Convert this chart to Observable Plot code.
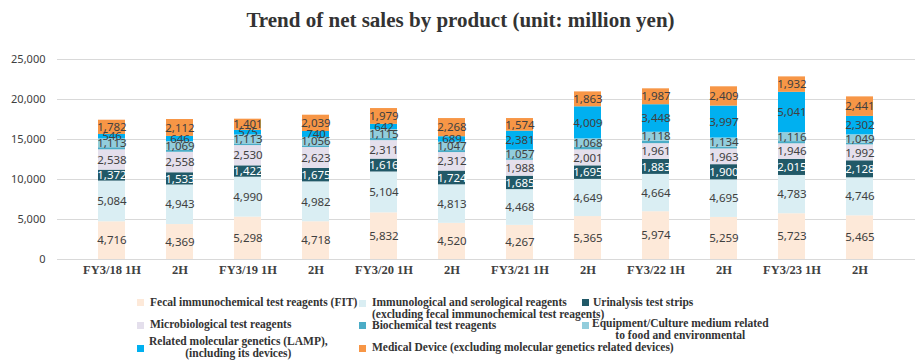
<!DOCTYPE html>
<html>
<head>
<meta charset="utf-8">
<script src="https://cdn.jsdelivr.net/npm/d3@7"></script>
<script src="https://cdn.jsdelivr.net/npm/@observablehq/plot@0.6"></script>
<style>
  html, body { margin: 0; padding: 0; background: #fff; }
  #wrap { position: relative; width: 921px; height: 361px; overflow: hidden; }
  #title { position: absolute; left: 0; top: 0; width: 921px; height: 40px; line-height: 40px; text-align: center;
    font-family: "Liberation Serif", serif; font-weight: bold; font-size: 21px; color: #333; }
  #chart { position: absolute; left: 0; top: 40px; }
  #legend { position: absolute; left: 0; top: 280px; width: 921px; height: 81px;
    font-family: "Liberation Serif", serif; font-weight: bold; font-size: 11.5px; color: #333; }
  .sw { position: absolute; width: 7px; height: 7px; }
  .lt { position: absolute; white-space: nowrap; line-height: 12px; transform: translateY(-50%); }
</style>
</head>
<body>
<div id="wrap">
  <div id="title">Trend of net sales by product (unit: million yen)</div>
  <div id="chart"></div>
  <div id="legend"></div>
</div>
<script>
const categories = ["FY3/18 1H","FY3/18 2H","FY3/19 1H","FY3/19 2H","FY3/20 1H","FY3/20 2H",
                    "FY3/21 1H","FY3/21 2H","FY3/22 1H","FY3/22 2H","FY3/23 1H","FY3/23 2H"];
const tickLabels = ["FY3/18 1H","2H","FY3/19 1H","2H","FY3/20 1H","2H","FY3/21 1H","2H","FY3/22 1H","2H","FY3/23 1H","2H"];

const series = [
  "Fecal immunochemical test reagents (FIT)",
  "Immunological and serological reagents",
  "Urinalysis test strips",
  "Microbiological test reagents",
  "Biochemical test reagents",
  "Equipment/Culture medium related to food and environmental",
  "Related molecular genetics (LAMP)",
  "Medical Device"
];
const colors = ["#fde9d9","#daeef3","#215968","#e4dfec","#4bacc6","#92cddc","#00b0f0","#f79646"];

const fit          = [4716,4369,5298,4718,5832,4520,4267,5365,5974,5259,5723,5465];
const immuno       = [5084,4943,4990,4982,5104,4813,4468,4649,4664,4695,4783,4746];
const urinalysis   = [1372,1533,1422,1675,1616,1724,1685,1695,1883,1900,2015,2128];
const microbio     = [2538,2558,2530,2623,2311,2312,1988,2001,1961,1963,1946,1992];
const biochem      = [260,270,210,205,270,245,200,300,300,230,270,205];
const equipment    = [1113,1069,1113,1056,1115,1047,1057,1068,1118,1134,1116,1049];
const lamp         = [546,646,575,740,642,689,2381,4009,3448,3997,5041,2302];
const medical      = [1782,2112,1401,2039,1979,2268,1574,1863,1987,2409,1932,2441];

const valuesBySeries = [fit, immuno, urinalysis, microbio, biochem, equipment, lamp, medical];
const labelMap = new Map(categories.map((c, i) => [c, tickLabels[i]]));

const data = [];
categories.forEach((c, i) => {
  series.forEach((s, j) => data.push({cat: c, series: s, value: valuesBySeries[j][i]}));
});
const fmt = d3.format(",");

const chart = Plot.plot({
  width: 921, height: 240,
  marginTop: 19, marginBottom: 21, marginLeft: 57, marginRight: 6,
  style: {background: "transparent"},
  x: {domain: categories, padding: 0.6},
  y: {domain: [0, 25000]},
  color: {domain: series, range: colors},
  marks: [
    Plot.gridY([5000,10000,15000,20000,25000], {stroke: "#d9d9d9", strokeOpacity: 1, strokeWidth: 1}),
    Plot.ruleY([0], {stroke: "#d9d9d9", strokeWidth: 1}),
    Plot.barY(data, {x: "cat", y: "value", fill: "series", z: "series"}),
    Plot.text(data, Plot.stackY({x: "cat", y: "value", z: "series",
      text: d => (d.series === series[4] || d.series === series[2]) ? null : fmt(d.value),
      fill: "#404040", fontFamily: "Noto Sans", fontSize: 11.5})),
    Plot.text(data, Plot.stackY({x: "cat", y: "value", z: "series",
      text: d => d.series === series[2] ? fmt(d.value) : null,
      fill: "#ffffff", fontFamily: "Noto Sans", fontSize: 11.5})),
    Plot.axisY({ticks: [0,5000,10000,15000,20000,25000], tickFormat: fmt, tickSize: 0, tickPadding: 12,
      label: null, fontFamily: "Noto Sans", fontSize: 11, fill: "#404040"}),
    Plot.axisX({tickFormat: d => labelMap.get(d), tickSize: 0, tickPadding: 6, label: null,
      fontFamily: "Liberation Serif", fontWeight: "bold", fontSize: 12.5, fill: "#404040"})
  ]
});
document.getElementById("chart").appendChild(chart);

// Legend
const legendItems = [
  {s: 0, sx: 137, sy: 22, lines: ["Fecal immunochemical test reagents (FIT)"], tx: 150, ty: 22, align: "left"},
  {s: 1, sx: 359, sy: 23, lines: ["Immunological and serological reagents", "(excluding fecal immunochemical test reagents)"], tx: 372, ty: 27.5, align: "left"},
  {s: 2, sx: 582, sy: 22, lines: ["Urinalysis test strips"], tx: 593, ty: 22, align: "left"},
  {s: 3, sx: 137, sy: 45, lines: ["Microbiological test reagents"], tx: 150, ty: 44, align: "left"},
  {s: 4, sx: 359, sy: 45, lines: ["Biochemical test reagents"], tx: 372, ty: 45, align: "left"},
  {s: 5, sx: 582, sy: 45, lines: ["Equipment/Culture medium related", "to food and environmental"], tx: 592, ty: 49, align: "center"},
  {s: 6, sx: 137, sy: 68, lines: ["Related molecular genetics (LAMP),", "(including its devices)"], tx: 149, ty: 66.5, align: "center"},
  {s: 7, sx: 359, sy: 68, lines: ["Medical Device (excluding molecular genetics related devices)"], tx: 372, ty: 67, align: "left"}
];
const legend = document.getElementById("legend");
legendItems.forEach(it => {
  const sw = document.createElement("div");
  sw.className = "sw";
  sw.style.left = it.sx + "px";
  sw.style.top = (it.sy - 3.5) + "px";
  sw.style.background = colors[it.s];
  legend.appendChild(sw);
  const t = document.createElement("div");
  t.className = "lt";
  t.style.left = it.tx + "px";
  t.style.top = it.ty + "px";
  t.style.textAlign = it.align;
  t.innerHTML = it.lines.join("<br>");
  legend.appendChild(t);
});
</script>
</body>
</html>
